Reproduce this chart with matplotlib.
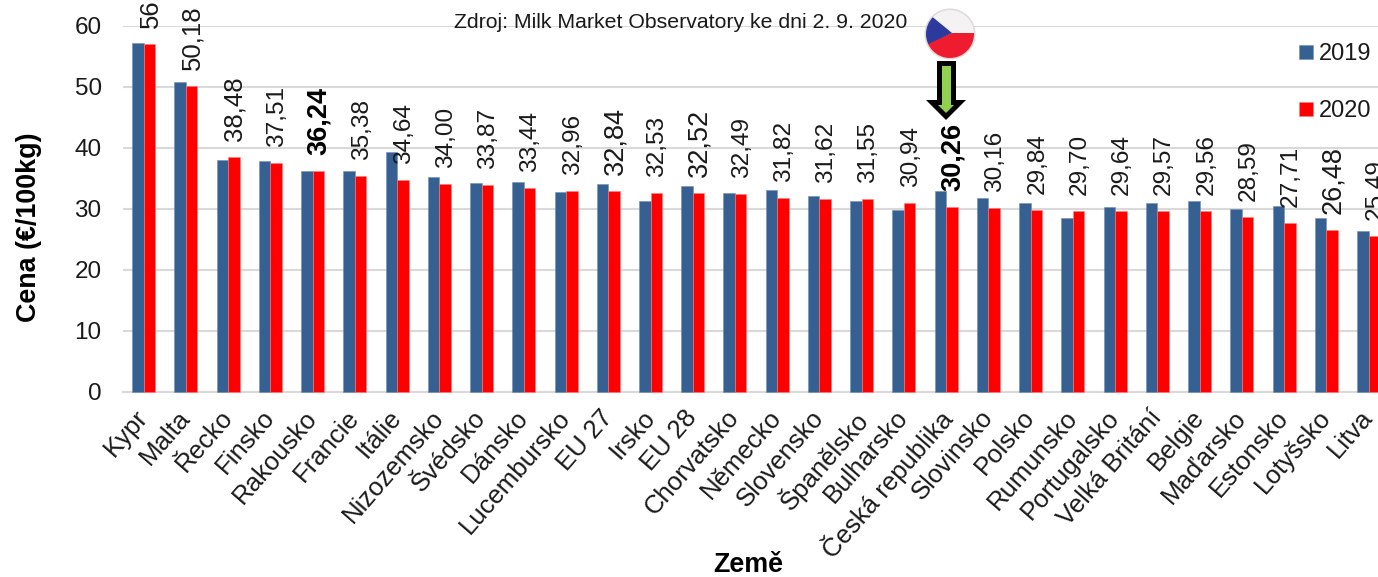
import matplotlib
matplotlib.use('Agg')
import matplotlib.pyplot as plt
from matplotlib.patches import Circle, Polygon
from matplotlib.transforms import ScaledTranslation

plt.rcParams['font.family'] = ['Liberation Sans', 'DejaVu Sans']

countries = ['Kypr', 'Malta', 'Řecko', 'Finsko', 'Rakousko', 'Francie', 'Itálie',
             'Nizozemsko', 'Švédsko', 'Dánsko', 'Lucembursko', 'EU 27', 'Irsko', 'EU 28',
             'Chorvatsko', 'Německo', 'Slovensko', 'Španělsko', 'Bulharsko',
             'Česká republika', 'Slovinsko', 'Polsko', 'Rumunsko', 'Portugalsko',
             'Velká Britání', 'Belgie', 'Maďarsko', 'Estonsko', 'Lotyšsko', 'Litva']
price_2019 = [57.2, 50.7, 38.0, 37.8, 36.1, 36.1, 39.3, 35.2, 34.2, 34.3,
              32.8, 34.0, 31.2, 33.7, 32.6, 33.0, 32.1, 31.2, 29.8, 32.9,
              31.8, 30.9, 28.5, 30.2, 30.9, 31.2, 30.0, 30.5, 28.5, 26.3]
price_2020 = [56.97, 50.18, 38.48, 37.51, 36.24, 35.38, 34.64, 34.00, 33.87, 33.44,
              32.96, 32.84, 32.53, 32.52, 32.49, 31.82, 31.62, 31.55, 30.94, 30.26,
              30.16, 29.84, 29.70, 29.64, 29.57, 29.56, 28.59, 27.71, 26.48, 25.49]
y_ticks = [0, 10, 20, 30, 40, 50, 60]
bold_labels = ['Rakousko', 'Česká republika']
big_labels = ['EU 27', 'EU 28', 'Lotyšsko']
mid_labels = ['Kypr', 'Malta', 'Řecko']

W, H = 1378, 577
BLUE = '#376092'
RED = '#ff0000'
TXT = '#1a1a1a'

fig = plt.figure(figsize=(W / 100, H / 100), dpi=100, facecolor='white')
ax = fig.add_axes([122.5 / W, (H - 391.7) / H, 30 * 42.24 / W, 366 / H])

# bars
x = list(range(len(countries)))
bw = 0.272
ax.bar([i - bw / 2 for i in x], price_2019, width=bw, color=BLUE, edgecolor='#6f8fb5',
       linewidth=0.4, label='2019', zorder=3, clip_on=False)
ax.bar([i + bw / 2 for i in x], price_2020, width=bw, color=RED, edgecolor='#ff8080',
       linewidth=0.4, label='2020', zorder=3, clip_on=False)

# hodnoty 2020 nad sloupci
for i, v in enumerate(price_2020):
    bold = countries[i] in bold_labels
    size = 17.6
    if bold or countries[i] in big_labels:
        size = 19.5
    elif countries[i] in mid_labels:
        size = 18.5
    ax.annotate(f'{v:.2f}'.replace('.', ','), (i + bw / 2, v), xytext=(0.7, 11.5),
                textcoords='offset points', rotation=90, ha='center', va='bottom',
                fontsize=size, color='black' if bold else TXT,
                fontweight='bold' if bold else 'normal', zorder=5,
                annotation_clip=False)

ax.set_xlim(-0.5, 29.5)
ax.set_ylim(0, 60)
ax.set_yticks(y_ticks)
ax.set_xticks(x)
ax.set_xticklabels(countries, rotation=49, ha='right', rotation_mode='anchor', fontsize=18.5, color=TXT)
ax.tick_params(axis='x', length=0, pad=10)
ax.tick_params(axis='y', length=0, pad=15, labelsize=17.5, labelcolor=TXT)
# tick_params resetuje transformaci, posun až po něm
shift = ScaledTranslation(-6.5 / 72, 0, fig.dpi_scale_trans)
for lab in ax.get_xticklabels():
    lab.set_transform(lab.get_transform() + shift)
ax.grid(axis='y', color='#d9d9d9', linewidth=1.5, zorder=0)
ax.set_axisbelow(True)
for s in ['top', 'left', 'right']:
    ax.spines[s].set_visible(False)
ax.spines['bottom'].set_color('#d9d9d9')
ax.spines['bottom'].set_linewidth(1.5)

fig.text(29 / W, 1 - 227 / H, 'Cena (€/100kg)', rotation=90, ha='center', va='center',
         fontsize=19.4, fontweight='bold', color='black')
fig.text(748 / W, 1 - 564.5 / H, 'Země', ha='center', va='center',
         fontsize=19.4, fontweight='bold', color='black')
fig.text(680.5 / W, 1 - 23 / H, 'Zdroj: Milk Market Observatory ke dni 2. 9. 2020',
         ha='center', va='center', fontsize=15.3, color=TXT)

ax.legend(loc='upper left', bbox_to_anchor=(1299 / W, 1 - 43 / H), bbox_transform=fig.transFigure,
          frameon=False, fontsize=17, borderpad=0, borderaxespad=0, handlelength=0.6,
          handleheight=0.53, handletextpad=0.25, labelspacing=1.5, labelcolor=TXT)

# vlajka a šipka v pixelových souřadnicích
ov = fig.add_axes([0, 0, 1, 1], facecolor='none')
ov.set_xlim(0, W)
ov.set_ylim(H, 0)
ov.axis('off')

disc = Circle((950, 34), 24, transform=ov.transData, facecolor='none')
ov.add_patch(disc)
ov.add_patch(Circle((950, 34), 25.5, facecolor='#d8d0d0', edgecolor='none', alpha=0.8))
for poly, col in [([(926, 10), (974, 10), (974, 33), (952, 33), (926, 12)], '#f4f2f2'),
                  ([(926, 44), (952, 33), (976, 33), (976, 60), (926, 60)], '#ee1c2e'),
                  ([(924, 10), (952, 33), (924, 46)], '#2b3a9c')]:
    p = Polygon(poly, facecolor=col, edgecolor='none')
    ov.add_patch(p)
    p.set_clip_path(disc)

ov.add_patch(Polygon([(937, 61), (956, 61), (956, 100), (966, 100), (946, 120), (926, 100), (937, 100)],
                     facecolor='black', edgecolor='none'))
ov.add_patch(Polygon([(942, 66), (951, 66), (951, 105), (954, 105), (946, 113), (938, 105), (942, 105)],
                     facecolor='#92d050', edgecolor='none'))

fig.savefig('out.png', dpi=100, facecolor='white')
